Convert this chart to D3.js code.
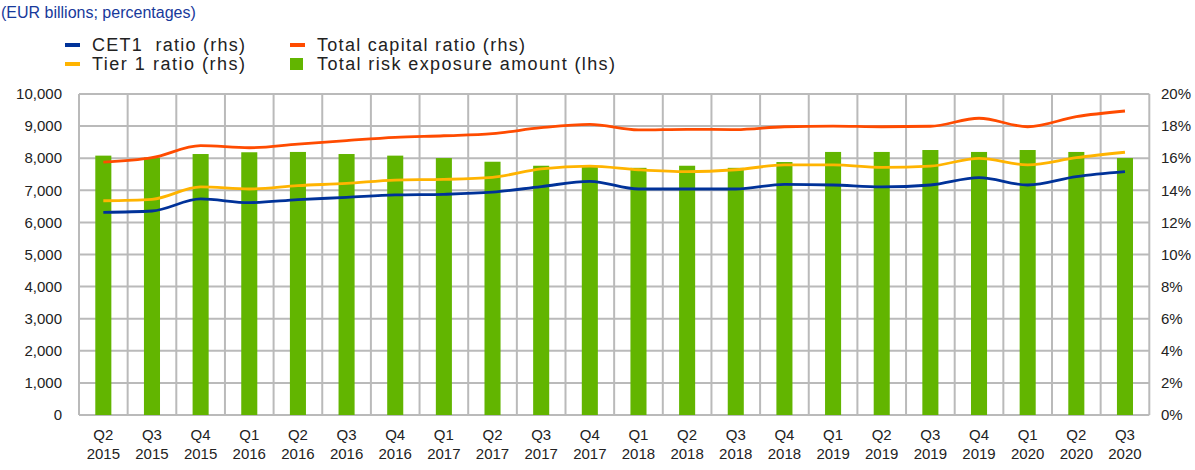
<!DOCTYPE html>
<html>
<head>
<meta charset="utf-8">
<script src="https://d3js.org/d3.v7.min.js"></script>
<style>
  body { margin: 0; background: #fff; }
  text { font-family: "Liberation Sans", Arial, sans-serif; }
</style>
</head>
<body>
<div id="main"></div>
<script>
const ctx = {
    CHART_WIDTH: 1195,
    CHART_HEIGHT: 470,
    LEFT: 79,
    RIGHT: 1149.3,
    TOP: 94,
    BOTTOM: 415
};

const quarters = ["Q2","Q3","Q4","Q1","Q2","Q3","Q4","Q1","Q2","Q3","Q4",
                  "Q1","Q2","Q3","Q4","Q1","Q2","Q3","Q4","Q1","Q2","Q3"];
const years = ["2015","2015","2015","2016","2016","2016","2016","2017","2017","2017","2017",
               "2018","2018","2018","2018","2019","2019","2019","2019","2020","2020","2020"];

// total risk exposure amount, EUR bn (lhs)
const trea = [8080, 8020, 8130, 8185, 8195, 8130, 8080, 8005, 7890, 7765, 7750,
              7700, 7765, 7700, 7880, 8195, 8195, 8255, 8195, 8255, 8195, 8005];
// ratios, % (rhs)
const totalCapital = [15.76, 16.03, 16.78, 16.65, 16.88, 17.1, 17.3, 17.4, 17.53, 17.9, 18.11,
                      17.76, 17.8, 17.78, 17.96, 18.0, 17.96, 17.99, 18.49, 17.96, 18.59, 18.94];
const tier1 = [13.35, 13.44, 14.21, 14.08, 14.29, 14.43, 14.64, 14.68, 14.81, 15.33, 15.51,
               15.28, 15.16, 15.28, 15.58, 15.58, 15.43, 15.51, 15.99, 15.58, 16.03, 16.37];
const cet1 = [12.63, 12.71, 13.46, 13.23, 13.42, 13.56, 13.71, 13.75, 13.88, 14.23, 14.56,
              14.08, 14.08, 14.08, 14.37, 14.33, 14.21, 14.33, 14.79, 14.33, 14.85, 15.16];

const leftTicks = d3.range(0, 10001, 1000);
const rightTicks = d3.range(0, 21, 2);

const categories = quarters.map((q, i) => q + " " + years[i]);

function drawChart(){
    let g = d3.select("#mainG");

    ctx.xScale = d3.scaleBand().domain(categories)
                               .range([ctx.LEFT, ctx.RIGHT])
                               .padding(0);
    ctx.yLeft = d3.scaleLinear().domain([0, 10000]).range([ctx.BOTTOM, ctx.TOP]);
    ctx.yRight = d3.scaleLinear().domain([0, 20]).range([ctx.BOTTOM, ctx.TOP]);

    // grid
    let grid = g.append("g").attr("stroke", "#bababa").attr("stroke-width", 2);
    grid.selectAll("line.h").data(leftTicks).enter().append("line")
        .attr("x1", ctx.LEFT).attr("x2", ctx.RIGHT)
        .attr("y1", d => ctx.yLeft(d)).attr("y2", d => ctx.yLeft(d));
    let bounds = categories.map(c => ctx.xScale(c)).concat([ctx.RIGHT]);
    grid.selectAll("line.v").data(bounds).enter().append("line")
        .attr("x1", d => d).attr("x2", d => d)
        .attr("y1", ctx.TOP).attr("y2", ctx.BOTTOM);

    // bars
    let bw = ctx.xScale.bandwidth() * 0.33;
    g.append("g").selectAll("rect").data(trea).enter().append("rect")
        .attr("x", (d, i) => ctx.xScale(categories[i]) + ctx.xScale.bandwidth()/2 - bw/2)
        .attr("width", bw)
        .attr("y", d => ctx.yLeft(d))
        .attr("height", d => ctx.yLeft(0) - ctx.yLeft(d))
        .attr("fill", "#62b500");

    // lines
    let line = d3.line()
        .x((d, i) => ctx.xScale(categories[i]) + ctx.xScale.bandwidth()/2)
        .y(d => ctx.yRight(d))
        .curve(d3.curveMonotoneX);
    [[totalCapital, "#ff4b00"], [tier1, "#ffb400"], [cet1, "#003299"]].forEach(s => {
        g.append("path")
         .datum(s[0])
         .attr("fill", "none")
         .attr("stroke", s[1])
         .attr("stroke-width", 2.8)
         .attr("d", line);
    });

    // left axis labels
    g.append("g").selectAll("text").data(leftTicks).enter().append("text")
        .attr("x", 62)
        .attr("y", d => ctx.yLeft(d))
        .attr("dy", "0.35em")
        .style("text-anchor", "end")
        .style("font-size", "15px")
        .style("fill", "#222")
        .text(d => d3.format(",")(d));

    // right axis labels
    g.append("g").selectAll("text").data(rightTicks).enter().append("text")
        .attr("x", 1161)
        .attr("y", d => ctx.yRight(d))
        .attr("dy", "0.35em")
        .style("text-anchor", "start")
        .style("font-size", "15px")
        .style("fill", "#222")
        .text(d => d + "%");

    // x labels
    let xl = g.append("g").selectAll("text").data(categories).enter().append("text")
        .attr("x", d => ctx.xScale(d) + ctx.xScale.bandwidth()/2)
        .attr("y", 440)
        .style("text-anchor", "middle")
        .style("font-size", "15px")
        .style("fill", "#222");
    xl.append("tspan").attr("x", d => ctx.xScale(d) + ctx.xScale.bandwidth()/2)
      .text((d, i) => quarters[i]);
    xl.append("tspan").attr("x", d => ctx.xScale(d) + ctx.xScale.bandwidth()/2)
      .attr("dy", 19)
      .text((d, i) => years[i]);

    // title
    g.append("text")
        .attr("x", 1).attr("y", 18)
        .style("font-size", "16px")
        .style("fill", "#17399b")
        .text("(EUR billions; percentages)");

    // legend
    let legend = [
        {label: "CET1  ratio (rhs)", color: "#003299", x: 65, y: 45, w: 153, type: "line"},
        {label: "Tier 1 ratio (rhs)", color: "#ffb400", x: 65, y: 64, w: 153, type: "line"},
        {label: "Total capital ratio (rhs)", color: "#ff4b00", x: 290, y: 45, w: 208, type: "line"},
        {label: "Total risk exposure amount (lhs)", color: "#62b500", x: 290, y: 64, w: 298, type: "rect"}
    ];
    let lg = g.append("g").selectAll("g").data(legend).enter().append("g");
    lg.filter(d => d.type === "line").append("rect")
        .attr("x", d => d.x).attr("y", d => d.y - 2)
        .attr("width", 15).attr("height", 4)
        .attr("fill", d => d.color);
    lg.filter(d => d.type === "rect").append("rect")
        .attr("x", d => d.x).attr("y", d => d.y - 6)
        .attr("width", 13).attr("height", 12)
        .attr("fill", d => d.color);
    lg.append("text")
        .attr("x", d => d.x + 27).attr("y", d => d.y)
        .attr("dy", "0.35em")
        .attr("textLength", d => d.w)
        .attr("lengthAdjust", "spacing")
        .style("white-space", "pre")
        .style("font-size", "18px")
        .style("fill", "#222")
        .text(d => d.label);
}

function createViz(){
    let svgEl = d3.select("#main").append("svg");
    svgEl.attr("width", ctx.CHART_WIDTH);
    svgEl.attr("height", ctx.CHART_HEIGHT);
    svgEl.append("g").attr("id", "mainG");
    drawChart();
}

createViz();
</script>
</body>
</html>
